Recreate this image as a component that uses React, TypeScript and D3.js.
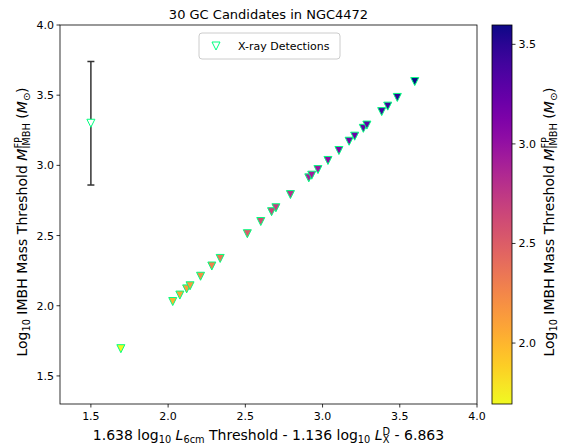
import React from "react";
import * as d3 from "d3";

// ---- data ----
const radioThreshold = [1.694, 2.03, 2.076, 2.12, 2.142, 2.21, 2.283, 2.337, 2.513, 2.6, 2.67, 2.698, 2.792, 2.911, 2.93, 2.97, 3.035, 3.106, 3.172, 3.208, 3.264, 3.287, 3.383, 3.422, 3.484, 3.597];
const massThreshold = [1.694, 2.03, 2.076, 2.12, 2.142, 2.21, 2.283, 2.337, 2.513, 2.6, 2.67, 2.698, 2.792, 2.911, 2.93, 2.97, 3.035, 3.106, 3.172, 3.208, 3.264, 3.287, 3.383, 3.422, 3.484, 3.597];
const errX = [1.5];
const errY = [3.3];
const errSize = [0.44];
const xTicks = [1.5, 2.0, 2.5, 3.0, 3.5, 4.0];
const yTicks = [1.5, 2.0, 2.5, 3.0, 3.5, 4.0];
const cbTicks = [2.0, 2.5, 3.0, 3.5];
const titleText = "30 GC Candidates in NGC4472";
const legendLabel = "X-ray Detections";

const FONT = "DejaVu Sans, sans-serif";
const EDGE = "#00ff7f";

export default function App() {
  const W = 563, H = 444;
  const left = 60, right = 477, top = 25, bottom = 404;
  const cbL = 492, cbR = 512;

  const x = d3.scaleLinear().domain([1.3, 4.0]).range([left, right]);
  const y = d3.scaleLinear().domain([1.3, 4.0]).range([bottom, top]);
  const cmin = d3.min(massThreshold) as number;
  const cmax = d3.max(massThreshold) as number;
  const cy = d3.scaleLinear().domain([cmin, cmax]).range([bottom, top]);
  const color = (v: number) => d3.interpolatePlasma(1 - (v - cmin) / (cmax - cmin));
  const fmt = d3.format(".1f");

  const r = 4;
  const tri = (px: number, py: number) =>
    `M${px - r},${py - r}L${px + r},${py - r}L${px},${py + r}Z`;

  const stops = d3.range(0, 1.0001, 0.05);

  const LF = 14;
  const sub = 9.8;
  const yLabel = (
    <>
      <tspan>Log</tspan>
      <tspan fontSize={sub} dy={2.8}>10</tspan>
      <tspan dy={-2.8}> IMBH Mass Threshold </tspan>
      <tspan fontStyle="italic">M</tspan>
      <tspan fontSize={sub} dy={-5.4}>FP</tspan>
      <tspan fontSize={sub} dx={-11.5} dy={8.6}>IMBH</tspan>
      <tspan dy={-3.2}> (</tspan>
      <tspan fontStyle="italic">M</tspan>
      <tspan fontSize={sub} dy={2.8}>⊙</tspan>
      <tspan dy={-2.8}>)</tspan>
    </>
  );
  const labelMid = 222;

  return (
    <svg width={W} height={H} style={{ position: "absolute", left: 0, top: 0, background: "#fff" }} fontFamily={FONT}>
      <defs>
        <linearGradient id="cb" x1="0" y1="1" x2="0" y2="0">
          {stops.map((t, i) => (
            <stop key={i} offset={t} stopColor={d3.interpolatePlasma(1 - t)} />
          ))}
        </linearGradient>
      </defs>
      <rect width={W} height={H} fill="#fff" />

      {/* title */}
      <text x={(left + right) / 2} y={19} textAnchor="middle" fontSize={13}>{titleText}</text>

      {/* error bar */}
      {errX.map((ex, i) => (
        <g key={i} stroke="#333" strokeWidth={1.5}>
          <line x1={x(ex)} x2={x(ex)} y1={y(errY[i] - errSize[i])} y2={y(errY[i] + errSize[i])} />
          <line x1={x(ex) - 3.5} x2={x(ex) + 3.5} y1={y(errY[i] - errSize[i])} y2={y(errY[i] - errSize[i])} />
          <line x1={x(ex) - 3.5} x2={x(ex) + 3.5} y1={y(errY[i] + errSize[i])} y2={y(errY[i] + errSize[i])} />
        </g>
      ))}
      {errX.map((ex, i) => (
        <path key={"m" + i} d={tri(x(ex), y(errY[i]))} fill="#fff" stroke={EDGE} strokeWidth={1} />
      ))}

      {/* points */}
      {radioThreshold.map((v, i) => (
        <path key={i} d={tri(x(v), y(massThreshold[i]))} fill={color(massThreshold[i])} stroke={EDGE} strokeWidth={1} />
      ))}

      {/* axes frame */}
      <rect x={left} y={top} width={right - left} height={bottom - top} fill="none" stroke="#000" strokeWidth={0.8} />

      {/* x ticks */}
      {xTicks.map((t) => (
        <g key={t}>
          <line x1={x(t)} x2={x(t)} y1={bottom} y2={bottom + 3.5} stroke="#000" strokeWidth={0.8} />
          <text x={x(t)} y={bottom + 15.5} textAnchor="middle" fontSize={11}>{fmt(t)}</text>
        </g>
      ))}
      {/* y ticks */}
      {yTicks.map((t) => (
        <g key={t}>
          <line x1={left - 3.5} x2={left} y1={y(t)} y2={y(t)} stroke="#000" strokeWidth={0.8} />
          <text x={left - 6} y={y(t) + 4} textAnchor="end" fontSize={11}>{fmt(t)}</text>
        </g>
      ))}

      {/* x label */}
      <text x={(left + right) / 2} y={440} textAnchor="middle" fontSize={LF}>
        <tspan>1.638 log</tspan>
        <tspan fontSize={sub} dy={2.8}>10</tspan>
        <tspan dy={-2.8}> </tspan>
        <tspan fontStyle="italic">L</tspan>
        <tspan fontSize={sub} dy={2.8}>6cm</tspan>
        <tspan dy={-2.8}> Threshold - 1.136 log</tspan>
        <tspan fontSize={sub} dy={2.8}>10</tspan>
        <tspan dy={-2.8}> </tspan>
        <tspan fontStyle="italic">L</tspan>
        <tspan fontSize={sub} dy={-5.4}>D</tspan>
        <tspan fontSize={sub} dx={-7.5} dy={8.6}>X</tspan>
        <tspan dx={0.8} dy={-3.2}> - 6.863</tspan>
      </text>

      {/* y label */}
      <text transform={`translate(27,${labelMid}) rotate(-90)`} textAnchor="middle" fontSize={LF}>
        {yLabel}
      </text>

      {/* legend */}
      <rect x={199} y={33} width={141} height={26} rx={3} fill="#fff" fillOpacity={0.8} stroke="#ccc" strokeWidth={1} />
      <path d={tri(216, 46)} fill="none" stroke={EDGE} strokeWidth={1} />
      <text x={238} y={50} fontSize={11}>{legendLabel}</text>

      {/* colorbar */}
      <rect x={cbL} y={top} width={cbR - cbL} height={bottom - top} fill="url(#cb)" />
      <rect x={cbL} y={top} width={cbR - cbL} height={bottom - top} fill="none" stroke="#000" strokeWidth={0.8} />
      {cbTicks.map((t) => (
        <g key={t}>
          <line x1={cbR} x2={cbR + 3.5} y1={cy(t)} y2={cy(t)} stroke="#000" strokeWidth={0.8} />
          <text x={cbR + 6.5} y={cy(t) + 4} fontSize={11}>{fmt(t)}</text>
        </g>
      ))}
      <text transform={`translate(554,${labelMid}) rotate(-90)`} textAnchor="middle" fontSize={LF}>
        {yLabel}
      </text>
    </svg>
  );
}
